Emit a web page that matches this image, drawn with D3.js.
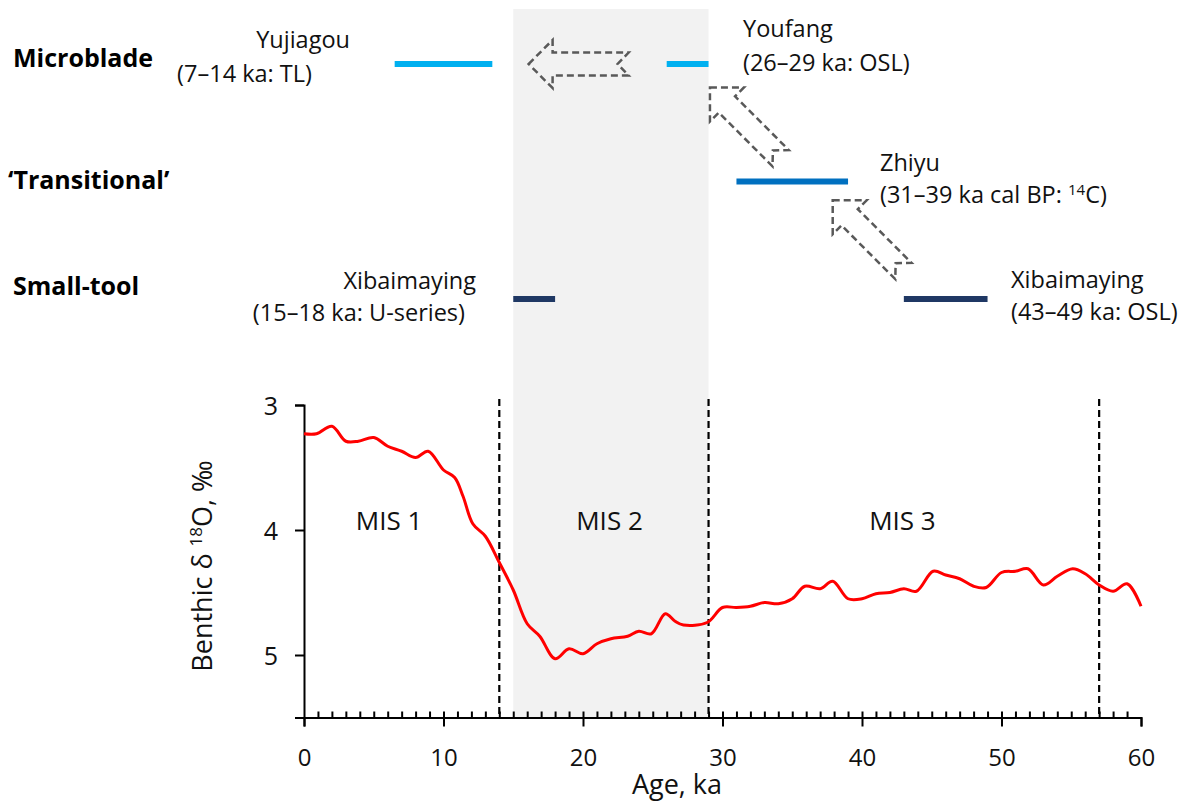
<!DOCTYPE html>
<html>
<head>
<meta charset="utf-8">
<script src="https://cdn.jsdelivr.net/npm/d3@7"></script>
<style>
  body { margin: 0; background: #fff; }
  svg { font-family: 'Open Sans', sans-serif; }
</style>
</head>
<body>
<svg id="chart" width="1194" height="807"></svg>
<script>
// benthic d18O record
const ages = [0, 0.9, 2, 3, 3.9, 5, 6, 7, 8, 8.9, 10, 10.8, 11.4, 12.1, 13, 14, 15, 16, 16.9,
    18, 19, 20, 21, 22, 23.2, 24, 24.9, 25.9, 26.6, 27.2, 28.9, 30, 31, 32, 33, 34, 35, 35.9,
    37, 37.9, 39, 40, 41, 42, 43, 43.9, 45.1, 46, 47, 48, 48.9, 50, 51, 51.9, 53, 54, 55.1,
    56, 57, 58, 59, 60];
const d18O = [3.23, 3.23, 3.17, 3.29, 3.29, 3.26, 3.33, 3.37, 3.42, 3.37, 3.52, 3.58, 3.73,
    3.95, 4.05, 4.26, 4.48, 4.75, 4.85, 5.03, 4.95, 4.99, 4.91, 4.87, 4.85, 4.81, 4.83, 4.67,
    4.73, 4.76, 4.74, 4.62, 4.62, 4.61, 4.58, 4.59, 4.55, 4.45, 4.47, 4.41, 4.55, 4.55, 4.51,
    4.50, 4.47, 4.49, 4.33, 4.36, 4.39, 4.45, 4.46, 4.34, 4.33, 4.31, 4.44, 4.37, 4.31, 4.35,
    4.44, 4.49, 4.43, 4.61];

// marine isotope stages
const misBounds = [14, 29, 57];
const misNames = ['MIS 1', 'MIS 2', 'MIS 3'];
const misLabelAge = [6.1, 21.9, 42.9];
const lgmBand = [15, 29];

// industries (row 0 = bottom) and dated sites
const industries = ['Small-tool', '\u2018Transitional\u2019', 'Microblade'];
const siteNames = ['Yujiagou', 'Youfang', 'Zhiyu', 'Xibaimaying', 'Xibaimaying'];
const siteRanges = ['(7\u201314 ka: TL)', '(26\u201329 ka: OSL)', '(31\u201339 ka cal BP: ',
    '(15\u201318 ka: U-series)', '(43\u201349 ka: OSL)'];
const siteStart = [6.5, 26, 31, 15, 43];
const siteEnd = [13.5, 29, 39, 18, 49];
const siteRow = [2, 2, 1, 0, 0];

// arrows: tip position (age, row) and direction
const arrowTipAge = [16.1, 29.1, 37.9];
const arrowTipRow = [2, 1.8, 0.84];
const arrowAngle = [0, 45, 45];

const xTicks = [0, 10, 20, 30, 40, 50, 60];
const yTicks = [3, 4, 5];

// ---- styles / layout ----
const barColors = ['#00b0f0', '#00b0f0', '#0070c0', '#1f3864', '#1f3864'];
// text positions for each site label: [x, anchor, nameBaseline, rangeX, rangeBaseline]
const siteLabelPos = [
    [350, 'end', 48, 312, 82],
    [743, 'start', 37, 743, 71],
    [880, 'start', 171, 880, 203],
    [476, 'end', 289, 465, 321],
    [1011, 'start', 288, 1011, 320]
];
const industryLabelPos = [[13, 295], [8, 189], [13, 67]];

const svg = d3.select('#chart');

const x = d3.scaleLinear().domain([0, 60]).range([304, 1141]);
const y = d3.scaleLinear().domain([3, 5.5]).range([405, 717.5]);
const yTop = d3.scaleLinear().domain([0, 2]).range([299, 64]);

// grey band for LGM
svg.append('rect')
    .attr('x', x(lgmBand[0]))
    .attr('y', 9)
    .attr('width', x(lgmBand[1]) - x(lgmBand[0]))
    .attr('height', y(5.5) - 9)
    .attr('fill', '#f2f2f2');

// MIS boundaries
svg.selectAll('.mis-line')
    .data(misBounds)
    .enter().append('line')
    .attr('class', 'mis-line')
    .attr('x1', d => x(d)).attr('x2', d => x(d))
    .attr('y1', 399).attr('y2', y(5.5))
    .attr('stroke', '#000')
    .attr('stroke-width', 2.2)
    .attr('stroke-dasharray', '7 4');

svg.selectAll('.mis-label')
    .data(misNames)
    .enter().append('text')
    .attr('x', (d, i) => x(misLabelAge[i]))
    .attr('y', y(4))
    .attr('text-anchor', 'middle')
    .attr('font-size', 26)
    .attr('fill', '#111')
    .text(d => d);

// x axis: major ticks down, minor ticks up
const xAxis = svg.append('g')
    .attr('transform', 'translate(0,' + y(5.5) + ')')
    .call(d3.axisBottom(x).tickValues(xTicks).tickSize(9).tickPadding(22).tickFormat(d3.format('d')));
svg.append('g')
    .attr('transform', 'translate(0,' + y(5.5) + ')')
    .call(d3.axisBottom(x).tickValues(d3.range(1, 60)).tickSize(-6).tickFormat(''))
    .call(g => g.select('.domain').remove());

const yAxis = svg.append('g')
    .attr('transform', 'translate(' + x(0) + ',0)')
    .call(d3.axisLeft(y).tickValues(yTicks).tickSize(9).tickPadding(17).tickFormat(d3.format('d')));

svg.selectAll('.tick line, .domain')
    .attr('stroke', '#000')
    .attr('stroke-width', 2);
svg.selectAll('.tick text')
    .attr('font-size', 24)
    .attr('font-family', "'Open Sans', sans-serif")
    .attr('fill', '#111');
yAxis.selectAll('.tick text').attr('dy', '0.36em').attr('font-size', 25);

// axis titles
svg.append('text')
    .attr('x', 677).attr('y', 794)
    .attr('text-anchor', 'middle')
    .attr('font-size', 27)
    .attr('fill', '#111')
    .text('Age, ka');

const yTitle = svg.append('text')
    .attr('transform', 'translate(212,566) rotate(-90)')
    .attr('text-anchor', 'middle')
    .attr('font-size', 27)
    .attr('fill', '#111');
yTitle.append('tspan').text('Benthic \u03b4 ');
yTitle.append('tspan').attr('font-size', 17).attr('dy', -10).text('18');
yTitle.append('tspan').attr('dy', 10).text('O, \u2030');

// curve
const pts = ages.map((a, i) => [a, d18O[i]]);
svg.append('path')
    .datum(pts)
    .attr('d', d3.line().x(d => x(d[0])).y(d => y(d[1])).curve(d3.curveCatmullRom.alpha(0.5)))
    .attr('fill', 'none')
    .attr('stroke', '#ff0000')
    .attr('stroke-width', 3);

// industry row labels
svg.selectAll('.industry')
    .data(industries)
    .enter().append('text')
    .attr('x', (d, i) => industryLabelPos[i][0])
    .attr('y', (d, i) => industryLabelPos[i][1])
    .attr('font-size', 25)
    .attr('font-weight', 'bold')
    .attr('fill', '#000')
    .text(d => d);

// site bars
svg.selectAll('.site-bar')
    .data(siteNames)
    .enter().append('line')
    .attr('x1', (d, i) => x(siteStart[i]))
    .attr('x2', (d, i) => x(siteEnd[i]))
    .attr('y1', (d, i) => yTop(siteRow[i]))
    .attr('y2', (d, i) => yTop(siteRow[i]))
    .attr('stroke', (d, i) => barColors[i])
    .attr('stroke-width', 6);

// site labels
siteNames.forEach(function(name, i) {
    const p = siteLabelPos[i];
    svg.append('text')
        .attr('x', p[0]).attr('y', p[2])
        .attr('text-anchor', p[1])
        .attr('font-size', 23.5)
        .attr('fill', '#111')
        .text(name);
    const r = svg.append('text')
        .attr('x', p[3]).attr('y', p[4])
        .attr('text-anchor', p[1])
        .attr('font-size', 23.5)
        .attr('fill', '#111');
    r.append('tspan').text(siteRanges[i]);
    if (name === 'Zhiyu') {
        r.append('tspan').attr('font-size', 15).attr('dy', -8).text('14');
        r.append('tspan').attr('dy', 8).text('C)');
    }
});

// dashed notched block arrows, drawn pointing left from the tip
const arrowShape = [[0, 0], [24, -24], [24, -11.5], [100, -11.5], [89, 0],
    [100, 11.5], [24, 11.5], [24, 24]];
arrowTipAge.forEach(function(a, i) {
    svg.append('path')
        .attr('d', d3.line()(arrowShape) + 'Z')
        .attr('transform', 'translate(' + x(a) + ',' + yTop(arrowTipRow[i]) + ') rotate(' + arrowAngle[i] + ')')
        .attr('fill', 'none')
        .attr('stroke', '#595959')
        .attr('stroke-width', 2.5)
        .attr('stroke-dasharray', '7 4');
});
</script>
</body>
</html>
